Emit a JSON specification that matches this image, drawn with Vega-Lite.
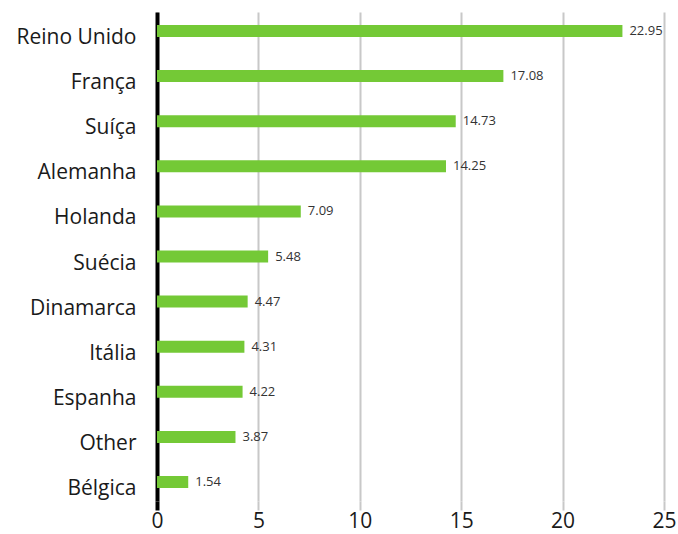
{
  "$schema": "https://vega.github.io/schema/vega-lite/v6.json",
  "width": 507,
  "height": 489,
  "autosize": {"type": "none"},
  "padding": {"left": 157, "top": 12, "right": 14, "bottom": 33},
  "background": "white",
  "config": {"view": {"stroke": null}, "font": "Open Sans"},
  "data": {
    "values": [
      {"country": "Reino Unido", "value": 22.95},
      {"country": "França", "value": 17.08},
      {"country": "Suíça", "value": 14.73},
      {"country": "Alemanha", "value": 14.25},
      {"country": "Holanda", "value": 7.09},
      {"country": "Suécia", "value": 5.48},
      {"country": "Dinamarca", "value": 4.47},
      {"country": "Itália", "value": 4.31},
      {"country": "Espanha", "value": 4.22},
      {"country": "Other", "value": 3.87},
      {"country": "Bélgica", "value": 1.54}
    ]
  },
  "encoding": {
    "y": {
      "field": "country",
      "type": "nominal",
      "sort": null,
      "scale": {"paddingInner": 0.734, "paddingOuter": 0.288},
      "axis": {
        "title": null,
        "ticks": false,
        "domainColor": "black",
        "domainWidth": 4,
        "labelFontSize": 21,
        "labelColor": "#1a1a1a",
        "labelPadding": 21,
        "labelOffset": 7
      }
    },
    "x": {
      "field": "value",
      "type": "quantitative",
      "scale": {"domain": [0, 25], "nice": false},
      "axis": {
        "title": null,
        "values": [0, 5, 10, 15, 20, 25],
        "domain": false,
        "grid": true,
        "gridColor": "#c8c8c8",
        "gridWidth": 2,
        "tickSize": 9,
        "tickColor": {"condition": {"test": "datum.value === 0", "value": "black"}, "value": "#c8c8c8"},
        "tickWidth": {"condition": {"test": "datum.value === 0", "value": 4}, "value": 2},
        "labelFlush": false,
        "labelFontSize": 21,
        "labelColor": "#1a1a1a",
        "labelPadding": 0
      }
    }
  },
  "layer": [
    {"mark": {"type": "bar", "color": "#74c936"}},
    {
      "mark": {"type": "text", "align": "left", "baseline": "middle", "dx": 7, "fontSize": 13, "color": "#333333"},
      "encoding": {"text": {"field": "value", "type": "quantitative", "format": ".2f"}}
    }
  ]
}
